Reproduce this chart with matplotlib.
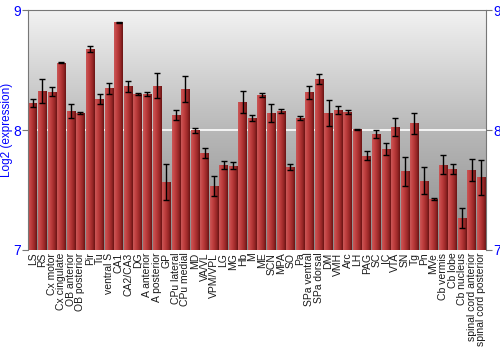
import numpy as np
import matplotlib
matplotlib.use("Agg")
import matplotlib.pyplot as plt
from matplotlib.colors import LinearSegmentedColormap

regions = ["LS", "RS", "Cx motor", "Cx cingulate", "OB anterior", "OB posterior",
           "Pir", "Tu", "ventral S", "CA1", "CA2/CA3", "DG", "A anterior",
           "A posterior", "GP", "CPu lateral", "CPu medial", "MD", "VA/VL",
           "VPM/VPL", "LG", "MG", "Hb", "M", "ME", "SCN", "MPA", "SO", "Pa",
           "SPa ventral", "SPa dorsal", "DM", "VMH", "Arc", "LH", "PAG", "SC",
           "IC", "VTA", "SN", "Tg", "Pn", "MVe", "Cb vermis", "Cb lobe",
           "Cb nucleus", "spinal cord anterior", "spinal cord posterior"]
expr = [8.222, 8.328, 8.32, 8.56, 8.16, 8.142, 8.675, 8.256, 8.35, 8.897,
        8.364, 8.30, 8.30, 8.37, 7.567, 8.125, 8.344, 7.997, 7.806, 7.533,
        7.708, 7.703, 8.233, 8.103, 8.292, 8.142, 8.158, 7.689, 8.10, 8.314,
        8.425, 8.144, 8.164, 8.153, 8.008, 7.786, 7.967, 7.839, 8.022, 7.656,
        8.058, 7.578, 7.422, 7.711, 7.672, 7.264, 7.669, 7.606]
err = [0.033, 0.10, 0.035, 0.005, 0.057, 0.01, 0.022, 0.042, 0.046, 0.005,
       0.047, 0.005, 0.014, 0.104, 0.147, 0.04, 0.108, 0.022, 0.042, 0.082,
       0.03, 0.03, 0.092, 0.024, 0.018, 0.079, 0.02, 0.024, 0.014, 0.057,
       0.043, 0.11, 0.033, 0.017, 0.004, 0.036, 0.035, 0.049, 0.076, 0.12,
       0.088, 0.111, 0.008, 0.079, 0.043, 0.085, 0.092, 0.146]

plt.rcParams['font.family'] = ['Liberation Sans', 'DejaVu Sans']

fig = plt.figure(figsize=(5, 3.5), dpi=100)
ax = fig.add_axes([0.056, 0.286, 0.916, 0.685])

x = np.arange(len(regions))
ax.set_xlim(-0.5, len(regions) - 0.5)
ax.set_ylim(7, 9)

# gray vertical gradient background
bg = LinearSegmentedColormap.from_list("bg", ["#8a8a8a", "#b8b8b8", "#f2f2f2"])
ax.imshow(np.linspace(0, 1, 256).reshape(-1, 1), cmap=bg, aspect="auto",
          extent=(-0.5, len(regions) - 0.5, 7, 9), origin="lower", zorder=0)
ax.axhline(8, color="white", lw=1.2, zorder=1)

# bars with horizontal shading
barcm = LinearSegmentedColormap.from_list(
    "bar", ["#c85858", "#c44444", "#b03434", "#962626", "#6a1414"])
grad = np.linspace(0, 1, 64).reshape(1, -1)
bars = ax.bar(x, np.array(expr) - 7, bottom=7, width=0.9, color="none",
              edgecolor="none", zorder=2)
for b in bars:
    x0, y0 = b.get_x(), b.get_y()
    w, h = b.get_width(), b.get_height()
    im = ax.imshow(grad, cmap=barcm, aspect="auto",
                   extent=(x0, x0 + w, y0, y0 + h), zorder=2)
    im.set_clip_path(b)

ax.errorbar(x, expr, yerr=err, fmt="none", ecolor="black", elinewidth=1,
            capsize=2.2, capthick=1, zorder=3)

ax.set_xticks(x)
ax.set_xticklabels(regions, rotation=90, fontsize=7.5, color="#1a1a1a")
ax.tick_params(axis="x", length=0, pad=2)

ax.set_yticks([7, 8, 9])
ax.tick_params(axis="y", colors="#777777", labelcolor="blue", labelsize=10,
               length=4, right=True, labelright=True, pad=1)
ax.set_ylabel("Log2 (expression)", color="blue", fontsize=8.5)
ax.yaxis.set_label_coords(-0.032, 0.5)

for s in ["left", "right", "top"]:
    ax.spines[s].set_color("#777777")
ax.spines["bottom"].set_visible(False)

fig.savefig("out.png", dpi=100)
